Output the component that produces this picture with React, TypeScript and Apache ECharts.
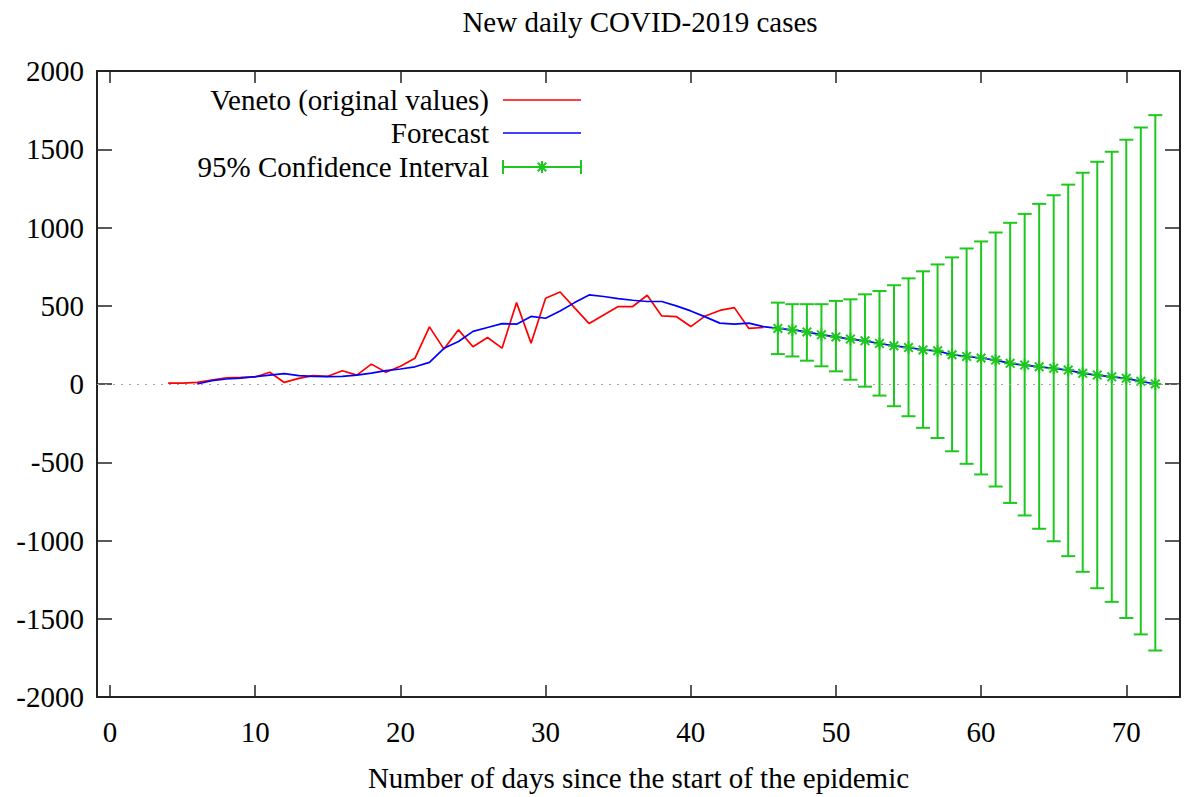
import React, { useEffect, useRef } from "react";
import * as echarts from "echarts";

// ---- Data ----
const redStartDay = 4;
const redValues = [
  5, 5, 10, 25, 40, 42, 45, 75, 10, 36, 53, 49, 85, 57, 127, 75, 113, 164, 365, 223,
  346, 238, 297, 229, 520, 261, 548, 588, 486, 386, 441, 495, 495, 567, 435, 431, 367, 435,
  470, 488, 355, 361,
];

const blueStartDay = 6;
const blueValues = [
  0, 21, 32, 38, 47, 57, 66, 53, 49, 47, 49, 57, 70, 85, 96, 110, 138, 228, 272, 336,
  361, 386, 382, 432, 420, 467, 520, 569, 559, 546, 535, 527, 527, 499, 467, 429, 389, 382,
  389, 367,
];

const ciStartDay = 46;
const ciCenter = [
  355, 346, 333, 314, 301, 287, 276, 259, 244, 233, 218, 212, 187, 176, 166, 153, 132, 121,
  110, 100, 89, 68, 57, 46, 36, 17, 0,
];
const ciUpper = [
  520, 510, 510, 510, 531, 541, 573, 594, 631, 675, 720, 764, 809, 866, 911, 968, 1030, 1087,
  1151, 1206, 1274, 1350, 1420, 1484, 1561, 1639, 1718,
];
const ciLower = [
  191, 176, 149, 113, 81, 27, -17, -74, -142, -206, -280, -345, -430, -510, -578, -655, -760,
  -840, -925, -1005, -1100, -1200, -1305, -1392, -1495, -1600, -1703,
];

const xTicks = [0, 10, 20, 30, 40, 50, 60, 70];
const titleText = "New daily COVID-2019 cases";
const xAxisTitle = "Number of days since the start of the epidemic";
const legendLabels = ["Veneto (original values)", "Forecast", "95% Confidence Interval"];

const FONT = "'Liberation Serif', 'Times New Roman', serif";
const FS = 29;
const TXT = "#000000";
const RED = "#ff0000";
const BLUE = "#0000ff";
const GREEN = "#1ec81e";
const AXIS = "#222222";

export default function App() {
  const ref = useRef<HTMLDivElement>(null);

  useEffect(() => {
    document.body.style.margin = "0";
    if (!ref.current) return;
    const chart = echarts.init(ref.current, null, { renderer: "svg" });

    const redData = redValues.map((v, i) => [redStartDay + i, v]);
    const blueData = blueValues
      .map((v, i) => [blueStartDay + i, v])
      .concat(ciCenter.map((v, i) => [ciStartDay + i, v]));
    const ciData = ciCenter.map((v, i) => [ciStartDay + i, v, ciLower[i], ciUpper[i]]);

    const starLines = (cx: number, cy: number, s: number, d: number) => [
      { type: "line", shape: { x1: cx - s, y1: cy, x2: cx + s, y2: cy } },
      { type: "line", shape: { x1: cx, y1: cy - s, x2: cx, y2: cy + s } },
      { type: "line", shape: { x1: cx - d, y1: cy - d, x2: cx + d, y2: cy + d } },
      { type: "line", shape: { x1: cx - d, y1: cy + d, x2: cx + d, y2: cy - d } },
    ];

    const legendX = 489;
    const lineX1 = 503;
    const lineX2 = 581;
    const legY = [100, 133, 167];
    const textStyleBase = { fontFamily: FONT, fontSize: FS, fill: TXT };

    const graphic: any[] = [
      {
        type: "text",
        x: 640,
        y: 22,
        style: { ...textStyleBase, text: titleText, textAlign: "center", textVerticalAlign: "middle" },
      },
    ];
    legendLabels.forEach((t, i) => {
      graphic.push({
        type: "text",
        x: legendX,
        y: legY[i],
        style: { ...textStyleBase, text: t, textAlign: "right", textVerticalAlign: "middle" },
      });
    });
    graphic.push({
      type: "line",
      shape: { x1: lineX1, y1: legY[0], x2: lineX2, y2: legY[0] },
      style: { stroke: RED, lineWidth: 1.5 },
    });
    graphic.push({
      type: "line",
      shape: { x1: lineX1, y1: legY[1], x2: lineX2, y2: legY[1] },
      style: { stroke: BLUE, lineWidth: 1.5 },
    });
    const cy = legY[2];
    const cx = (lineX1 + lineX2) / 2;
    graphic.push({
      type: "group",
      children: [
        { type: "line", shape: { x1: lineX1, y1: cy, x2: lineX2, y2: cy } },
        { type: "line", shape: { x1: lineX1, y1: cy - 7, x2: lineX1, y2: cy + 7 } },
        { type: "line", shape: { x1: lineX2, y1: cy - 7, x2: lineX2, y2: cy + 7 } },
        ...starLines(cx, cy, 6, 4.3),
      ].map((c: any) => ({ ...c, style: { stroke: GREEN, lineWidth: 2 } })),
    });

    const xCommon = {
      type: "value",
      min: -0.9,
      max: 73.7,
      splitLine: { show: false },
      axisLine: { show: true, onZero: false, lineStyle: { color: AXIS, width: 2 } },
      axisTick: {
        show: true,
        inside: true,
        length: 12,
        customValues: xTicks,
        lineStyle: { color: AXIS, width: 1.5 },
      },
    };
    const yCommon = {
      type: "value",
      min: -2000,
      max: 2000,
      interval: 500,
      splitLine: { show: false },
      axisLine: { show: true, onZero: false, lineStyle: { color: AXIS, width: 2 } },
      axisTick: { show: true, inside: true, length: 15, lineStyle: { color: AXIS, width: 1.5 } },
    };

    const option: any = {
      animation: false,
      backgroundColor: "#ffffff",
      grid: { left: 97, top: 71, width: 1083, height: 628, containLabel: false },
      graphic,
      xAxis: [
        {
          ...xCommon,
          position: "bottom",
          name: xAxisTitle,
          nameLocation: "middle",
          nameGap: 66,
          nameTextStyle: { fontFamily: FONT, fontSize: FS, color: TXT },
          axisLabel: {
            show: true,
            customValues: xTicks,
            margin: 20,
            fontFamily: FONT,
            fontSize: FS,
            color: TXT,
          },
        },
        {
          ...xCommon,
          position: "top",
          axisLabel: { show: false },
        },
      ],
      yAxis: [
        {
          ...yCommon,
          position: "left",
          axisLabel: {
            show: true,
            margin: 13,
            fontFamily: FONT,
            fontSize: FS,
            color: TXT,
            formatter: (v: number) => String(v),
          },
        },
        {
          ...yCommon,
          position: "right",
          axisLabel: { show: false },
        },
      ],
      series: [
        {
          name: legendLabels[0],
          type: "line",
          data: redData,
          showSymbol: false,
          symbol: "none",
          lineStyle: { color: RED, width: 1.7 },
          markLine: {
            silent: true,
            symbol: "none",
            label: { show: false },
            lineStyle: { color: "#a8a8a8", width: 1.2, type: [2, 6] },
            data: [{ yAxis: 0 }],
          },
          z: 2,
        },
        {
          name: legendLabels[1],
          type: "line",
          data: blueData,
          showSymbol: false,
          symbol: "none",
          lineStyle: { color: BLUE, width: 1.7 },
          z: 3,
        },
        {
          name: legendLabels[2],
          type: "custom",
          data: ciData,
          z: 4,
          renderItem: (params: any, api: any) => {
            const x = api.value(0);
            const c = api.value(1);
            const lo = api.value(2);
            const hi = api.value(3);
            const pc = api.coord([x, c]);
            const ph = api.coord([x, hi]);
            const pl = api.coord([x, lo]);
            const cap = 7;
            const children = [
              { type: "line", shape: { x1: ph[0], y1: ph[1], x2: pl[0], y2: pl[1] } },
              { type: "line", shape: { x1: ph[0] - cap, y1: ph[1], x2: ph[0] + cap, y2: ph[1] } },
              { type: "line", shape: { x1: pl[0] - cap, y1: pl[1], x2: pl[0] + cap, y2: pl[1] } },
              ...starLines(pc[0], pc[1], 6, 4.3),
            ].map((ch: any) => ({ ...ch, style: { stroke: GREEN, lineWidth: 2 } }));
            return { type: "group", children };
          },
        },
      ],
    };

    chart.setOption(option);
    return () => {
      chart.dispose();
    };
  }, []);

  return <div ref={ref} style={{ width: 1186, height: 797 }} />;
}
